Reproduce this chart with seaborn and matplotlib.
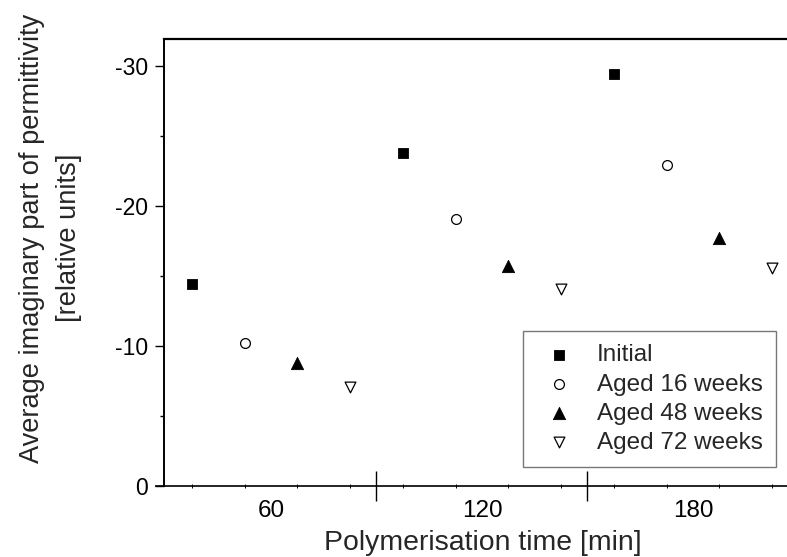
"""
Average imaginary part of permittivity vs. polymerisation time, by ageing state
"""
import matplotlib
matplotlib.use("Agg")
import pandas as pd
import seaborn as sns
from matplotlib import pyplot as plt

times = [60, 120, 180]
series_names = ["Initial", "Aged 16 weeks", "Aged 48 weeks", "Aged 72 weeks"]
initial = [-14.4, -23.8, -29.4]
aged_16 = [-10.2, -19.1, -22.9]
aged_48 = [-8.8, -15.7, -17.7]
aged_72 = [-7.1, -14.05, -15.55]


def build_frame():
    rows = []
    for name, values in zip(series_names, [initial, aged_16, aged_48, aged_72]):
        for t, v in zip(times, values):
            rows.append({"series": name, "time": t, "value": v})
    return pd.DataFrame(rows)


def plot():
    df = build_frame()
    sns.set_style("ticks")
    plt.rcParams['font.family'] = ['Liberation Sans', 'DejaVu Sans']
    plt.rcParams['axes.unicode_minus'] = False

    fig = plt.figure(figsize=(7.87, 5.57), dpi=100)
    ax = fig.add_axes([164 / 787, 1 - 486 / 557, (802 - 164) / 787, (486 - 39) / 557])

    # each series sits side by side inside its time group
    dodge = {"Initial": -22.5, "Aged 16 weeks": -7.5, "Aged 48 weeks": 7.5, "Aged 72 weeks": 22.5}
    styles = {
        "Initial": dict(marker='s', s=52, facecolor='black', edgecolor='black', linewidth=0.6),
        "Aged 16 weeks": dict(marker='o', s=50, facecolor='white', edgecolor='black', linewidth=0.9),
        "Aged 48 weeks": dict(marker='^', s=78, facecolor='black', edgecolor='black', linewidth=0.6),
        "Aged 72 weeks": dict(marker='v', s=60, facecolor='white', edgecolor='black', linewidth=0.9),
    }
    for name in series_names:
        sub = df[df["series"] == name]
        sns.scatterplot(x=sub["time"] + dodge[name], y=sub["value"], ax=ax, label=name,
                        zorder=3, **styles[name])

    ax.set_xlim(29.6, 211.0)
    ax.set_ylim(0, -31.93)

    # group boundaries get the long ticks, group centres get the labels
    ax.set_xticks([60, 90, 120, 150, 180])
    ax.set_xticklabels(['60', '', '120', '', '180'])
    for i in (0, 2, 4):
        ax.xaxis.get_major_ticks()[i].tick1line.set_visible(False)
    point_x = sorted(t + d for t in times for d in dodge.values())
    ax.set_xticks(point_x, minor=True)
    ax.tick_params(axis='x', which='major', direction='inout', length=21, width=1.0,
                   pad=-0.5, labelsize=17.5, colors='black')
    ax.tick_params(axis='x', which='minor', direction='inout', length=3, width=0.7, colors='black')

    ax.set_yticks([-30, -20, -10, 0])
    ax.set_yticks([-25, -15, -5], minor=True)
    ax.tick_params(axis='y', which='major', direction='out', length=6.5, width=1.0,
                   pad=5, labelsize=16.5, colors='black')
    ax.tick_params(axis='y', which='minor', direction='out', length=3, width=1.0, colors='black')

    ax.set_xlabel('Polymerisation time [min]', fontsize=20.4)
    ax.set_ylabel('Average imaginary part of permittivity\n[relative units]', fontsize=19.6,
                  linespacing=1.55)
    ax.xaxis.set_label_coords((483 - 164) / 638, (486 - 530) / 447)
    ax.yaxis.set_label_coords((82 - 164) / 638, (486 - 238) / 447)

    ax.spines['right'].set_visible(False)
    ax.spines['top'].set_linewidth(1.6)
    ax.spines['left'].set_linewidth(1.4)
    ax.spines['bottom'].set_linewidth(1.2)
    for side in ('top', 'left', 'bottom'):
        ax.spines[side].set_color('black')
    # the x axis line runs a little past the y axis on the left
    ax.plot([-9 / 638, 0], [0, 0], transform=ax.transAxes, color='black', lw=1.2,
            clip_on=False, solid_capstyle='butt')

    leg = ax.legend(loc='lower right', bbox_to_anchor=((776 - 164) / 638, (486 - 467) / 447),
                    borderaxespad=0, fontsize=17.5, frameon=True, fancybox=False,
                    labelspacing=0.29, handlelength=1.9, handletextpad=0.6, borderpad=0.55)
    leg.get_frame().set_edgecolor('#555555')
    leg.get_frame().set_linewidth(1.0)

    fig.savefig('out.png', dpi=100)


if __name__ == "__main__":
    plot()
